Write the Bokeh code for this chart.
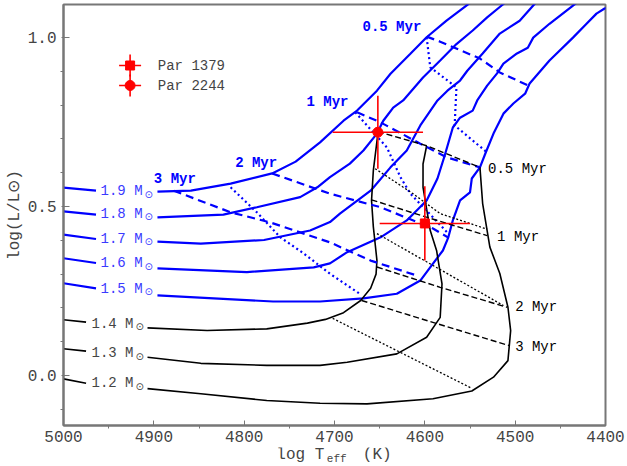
import math
from bokeh.plotting import figure
from bokeh.layouts import column
from bokeh.models import Range1d, FixedTicker, PrintfTickFormatter
from bokeh.core.properties import value
from bokeh.embed import file_html
from bokeh.resources import INLINE

nan = float("nan")

# ---------------- data ----------------
# evolutionary tracks (Teff [K], log L/Lsun); NaN = gap for the mass label
T19 = [5000, 4964, nan, 4896, 4859, 4815, 4769, 4743, 4716, 4690, 4675, 4653, 4638, 4616, 4598, 4576, 4554, 4539]
L19 = [0.556, 0.547, nan, 0.544, 0.547, 0.568, 0.598, 0.633, 0.690, 0.754, 0.784, 0.843, 0.893, 0.952, 1.001, 1.050, 1.095, 1.124]
T18 = [5000, 4964, nan, 4896, 4823, 4786, 4738, 4719, 4705, 4683, 4668, 4653, 4646, 4635, 4624, 4602, 4583, 4565, 4547, 4531, 4515, 4500]
L18 = [0.486, 0.476, nan, 0.468, 0.476, 0.498, 0.528, 0.557, 0.587, 0.627, 0.666, 0.716, 0.754, 0.793, 0.814, 0.882, 0.932, 0.981, 1.021, 1.060, 1.095, 1.127]
T17 = [5000, 4964, nan, 4896, 4848, 4778, 4727, 4705, 4694, 4660, 4638, 4620, 4605, 4586, 4575, 4561, 4553, 4536, 4517, 4495, 4480, 4470]
L17 = [0.417, 0.404, nan, 0.396, 0.390, 0.401, 0.429, 0.454, 0.479, 0.547, 0.616, 0.666, 0.740, 0.814, 0.843, 0.873, 0.902, 0.953, 1.012, 1.050, 1.095, 1.124]
T16 = [5000, 4964, nan, 4896, 4797, 4723, 4705, 4686, 4649, 4620, 4598, 4586, 4578, 4569, 4561, 4547, 4542, 4531, 4520, 4513, 4498, 4486, 4480, 4462, 4436, 4423]
L16 = [0.347, 0.333, nan, 0.317, 0.306, 0.320, 0.332, 0.365, 0.409, 0.459, 0.518, 0.583, 0.651, 0.734, 0.763, 0.784, 0.814, 0.858, 0.894, 0.923, 0.953, 0.970, 1.000, 1.041, 1.095, 1.121]
T15 = [5000, 4964, nan, 4896, 4768, 4716, 4668, 4631, 4605, 4591, 4580, 4574, 4569, 4561, 4550, 4548, 4539, 4533, 4524, 4513, 4502, 4489, 4484, 4462, 4436, 4421, 4410, 4401, 4393]
L15 = [0.273, 0.258, nan, 0.237, 0.219, 0.219, 0.228, 0.242, 0.281, 0.331, 0.370, 0.409, 0.459, 0.518, 0.542, 0.583, 0.616, 0.657, 0.716, 0.775, 0.805, 0.834, 0.864, 0.932, 1.000, 1.041, 1.071, 1.086, 1.092]
T14 = [5000, 4975, nan, 4907, 4841, 4775, 4730, 4710, 4690, 4671, 4660, 4654, 4653, 4657, 4659, 4657, 4652]
L14 = [0.165, 0.158, nan, 0.141, 0.133, 0.138, 0.155, 0.166, 0.186, 0.222, 0.258, 0.300, 0.340, 0.440, 0.518, 0.607, 0.715]
T13 = [5000, 4975, nan, 4907, 4848, 4775, 4716, 4686, 4631, 4598, 4583, 4581, 4587, 4594, 4602, 4602, 4598]
L13 = [0.079, 0.072, nan, 0.054, 0.036, 0.030, 0.030, 0.039, 0.064, 0.113, 0.172, 0.271, 0.370, 0.429, 0.557, 0.626, 0.680]
T12 = [5000, 4975, nan, 4907, 4848, 4775, 4716, 4664, 4591, 4548, 4524, 4508, 4505, 4508, 4517, 4528, 4536, 4539]
L12 = [-0.010, -0.023, nan, -0.039, -0.054, -0.074, -0.082, -0.084, -0.069, -0.046, -0.005, 0.044, 0.133, 0.202, 0.302, 0.380, 0.509, 0.616]

# blue isochrones (dashed)
BI05_T = [4598, 4583, 4539, 4517, 4483]
BI05_L = [1.003, 0.988, 0.938, 0.897, 0.855]
BI1_T = [4675, 4649, 4605, 4576, 4539]
BI1_L = [0.779, 0.749, 0.686, 0.646, 0.616]
BI2_T = [4769, 4705, 4649, 4591, 4574]
BI2_L = [0.598, 0.538, 0.498, 0.435, 0.408]
BI3_T = [4878, 4815, 4771, 4705, 4660, 4609]
BI3_L = [0.547, 0.483, 0.453, 0.394, 0.340, 0.296]
# blue dotted lines
BD1_T = [4598, 4594, 4565, 4567, 4531]
BD1_L = [1.001, 0.912, 0.853, 0.740, 0.660]
BD2_T = [4677, 4666, 4642, 4627, 4616, 4591, 4574]
BD2_L = [0.779, 0.746, 0.675, 0.587, 0.538, 0.468, 0.420]
BD3_T = [4815, 4786, 4760, 4734, 4705, 4671]
BD3_L = [0.557, 0.483, 0.409, 0.361, 0.301, 0.240]
# black isochrones (dashed)
KI05_T = [4652, 4598, 4539]
KI05_L = [0.722, 0.680, 0.616]
KI1_T = [4659, 4600, 4531]
KI1_L = [0.520, 0.470, 0.414]
KI2_T = [4653, 4583, 4509]
KI2_L = [0.321, 0.261, 0.202]
KI3_T = [4670, 4586, 4506]
KI3_L = [0.222, 0.153, 0.088]
# black dotted lines
KD1_T = [4655, 4613, 4583, 4531]
KD1_L = [0.612, 0.538, 0.479, 0.433]
KD2_T = [4653, 4513]
KD2_L = [0.420, 0.207]
KD3_T = [4702, 4548]
KD3_L = [0.169, -0.038]

# stars
star_names = ["Par 1379", "Par 2244"]
star_T = [4600, 4652]
star_L = [0.45, 0.72]
star_eT = [50, 50]
star_eL = [0.11, 0.108]

# labels
blue_mass_text = ["1.9 M", "1.8 M", "1.7 M", "1.6 M", "1.5 M"]
blue_mass_T = [4959, 4959, 4959, 4959, 4959]
blue_mass_L = [0.545, 0.478, 0.404, 0.332, 0.257]
black_mass_text = ["1.4 M", "1.3 M", "1.2 M"]
black_mass_T = [4969, 4969, 4969]
black_mass_L = [0.153, 0.066, -0.023]
blue_age_text = ["0.5 Myr", "1 Myr", "2 Myr", "3 Myr"]
blue_age_T = [4669, 4731, 4810, 4900]
blue_age_L = [1.030, 0.809, 0.630, 0.583]
black_age_text = ["0.5 Myr", "1 Myr", "2 Myr", "3 Myr"]
black_age_T = [4530, 4520, 4500, 4500]
black_age_L = [0.612, 0.409, 0.202, 0.084]

X0, X1 = 5000, 4400
Y0, Y1 = -0.148, 1.098

FONT = value("Liberation Mono")
BLUE = "#0000ff"
GREY = "#777777"
TXT = "#444444"

xr = Range1d(X0, X1)
p = figure(width=627, height=447, output_backend="svg", toolbar_location=None,
           x_range=xr, y_range=Range1d(Y0, Y1),
           min_border_left=63, min_border_right=22, min_border_top=4, min_border_bottom=22)
p.grid.visible = False
p.outline_line_color = GREY
p.outline_line_width = 2
p.background_fill_color = "white"
p.border_fill_color = "white"

for ax in (p.xaxis[0], p.yaxis[0]):
    ax.axis_line_color = GREY
    ax.axis_line_width = 2
    ax.major_tick_line_color = GREY
    ax.minor_tick_line_color = GREY
    ax.major_tick_line_width = 1
    ax.minor_tick_line_width = 1
    ax.major_label_text_font = "Liberation Mono"
    ax.major_label_text_font_size = "16px"
    ax.major_label_text_color = TXT

p.xaxis.ticker = FixedTicker(ticks=[5000, 4900, 4800, 4700, 4600, 4500, 4400],
                             minor_ticks=[4950, 4850, 4750, 4650, 4550, 4450])
p.xaxis.major_tick_in = 5
p.xaxis.major_tick_out = 0
p.xaxis.minor_tick_in = 0
p.xaxis.minor_tick_out = 3
p.xaxis.major_label_standoff = 2
p.yaxis.ticker = FixedTicker(ticks=[0.0, 0.5, 1.0],
                             minor_ticks=[-0.1, 0.1, 0.2, 0.3, 0.4, 0.6, 0.7, 0.8, 0.9])
p.yaxis.formatter = PrintfTickFormatter(format="%.1f")
p.yaxis.major_tick_in = 6
p.yaxis.major_tick_out = 2
p.yaxis.minor_tick_in = 0
p.yaxis.minor_tick_out = 3
p.yaxis.major_label_standoff = 4
p.yaxis.axis_label = "log(L/L\u2299)"
p.yaxis.axis_label_text_font = "Liberation Mono"
p.yaxis.axis_label_text_font_size = "16px"
p.yaxis.axis_label_text_font_style = "normal"
p.yaxis.axis_label_text_color = TXT
p.yaxis.axis_label_standoff = 1

# tracks
for T, L in [(T19, L19), (T18, L18), (T17, L17), (T16, L16), (T15, L15)]:
    p.line(T, L, line_color=BLUE, line_width=2.2)
for T, L in [(T14, L14), (T13, L13), (T12, L12)]:
    p.line(T, L, line_color="black", line_width=1.6)

for T, L in [(BI05_T, BI05_L), (BI1_T, BI1_L), (BI2_T, BI2_L), (BI3_T, BI3_L)]:
    p.line(T, L, line_color=BLUE, line_width=2.2, line_dash="8 5")
for T, L in [(BD1_T, BD1_L), (BD2_T, BD2_L), (BD3_T, BD3_L)]:
    p.line(T, L, line_color=BLUE, line_width=2.2, line_dash="2 3")
for T, L in [(KI05_T, KI05_L), (KI1_T, KI1_L), (KI2_T, KI2_L), (KI3_T, KI3_L)]:
    p.line(T, L, line_color="black", line_width=1.4, line_dash="6 3")
for T, L in [(KD1_T, KD1_L), (KD2_T, KD2_L), (KD3_T, KD3_L)]:
    p.line(T, L, line_color="black", line_width=1.3, line_dash="2 2")

# labels on the plot
p.text(blue_mass_T, blue_mass_L, text=blue_mass_text, text_font=FONT, text_font_size="14px",
       text_color="#3a3aff", text_baseline="middle", text_align="left")
p.text(blue_mass_T, blue_mass_L, text=["\u2299"] * len(blue_mass_T), text_font=value("DejaVu Sans"),
       text_font_size="10px", text_color="#3a3aff", text_baseline="middle", text_align="left",
       x_offset=44, y_offset=3)
p.text(black_mass_T, black_mass_L, text=black_mass_text, text_font=FONT, text_font_size="14px",
       text_color=TXT, text_baseline="middle", text_align="left")
p.text(black_mass_T, black_mass_L, text=["\u2299"] * len(black_mass_T), text_font=value("DejaVu Sans"),
       text_font_size="10px", text_color=TXT, text_baseline="middle", text_align="left",
       x_offset=44, y_offset=3)
p.text(blue_age_T, blue_age_L, text=blue_age_text, text_font=FONT, text_font_size="14px",
       text_font_style="bold", text_color=BLUE, text_baseline="middle", text_align="left")
p.text(black_age_T, black_age_L, text=black_age_text, text_font=FONT, text_font_size="14px",
       text_color="black", text_baseline="middle", text_align="left")

# stars with error bars
x0s = [t - e for t, e in zip(star_T, star_eT)]
x1s = [t + e for t, e in zip(star_T, star_eT)]
y0s = [l - e for l, e in zip(star_L, star_eL)]
y1s = [l + e for l, e in zip(star_L, star_eL)]
p.segment(x0s, star_L, x1s, star_L, line_color="red", line_width=1.6)
p.segment(star_T, y0s, star_T, y1s, line_color="red", line_width=1.6)
p.scatter([star_T[0]], [star_L[0]], marker="square", size=9, color="red")
p.scatter([star_T[1]], [star_L[1]], marker="circle", size=10, color="red")

# legend (placed by fractions of the frame)
def fx(f):
    return X0 + f * (X1 - X0)

def fy(f):
    return Y1 - f * (Y1 - Y0)

FW, FH = 542, 421
lx = fx((129.3 - 62.7) / FW)
ly = [fy((65 - 4) / FH), fy((85 - 4) / FH)]
dxa = 11 / FW * (X0 - X1)
dya = 11 / FH * (Y1 - Y0)
p.segment([lx - dxa] * 2, ly, [lx + dxa] * 2, ly, line_color="red", line_width=1.6)
p.segment([lx] * 2, [v - dya for v in ly], [lx] * 2, [v + dya for v in ly], line_color="red", line_width=1.6)
p.scatter([lx], [ly[0]], marker="square", size=9, color="red")
p.scatter([lx], [ly[1]], marker="circle", size=10, color="red")
p.text([fx((157 - 62.7) / FW)] * 2, ly, text=star_names, text_font=FONT, text_font_size="14px",
       text_color=TXT, text_baseline="middle", text_align="left")

# x-axis title strip (a thin figure sharing the x range, for the subscript)
HT = 19
t = figure(width=627, height=HT, output_backend="svg", toolbar_location=None,
           x_range=xr, y_range=Range1d(HT, 0),
           min_border_left=63, min_border_right=22, min_border_top=0, min_border_bottom=0,
           x_axis_location=None, y_axis_location=None)
t.grid.visible = False
t.outline_line_color = None
t.background_fill_color = "white"
t.border_fill_color = "white"
t.text([fx((275.5 - 62.7) / FW)], [7], text=["log T"], text_font=FONT, text_font_size="16px",
       text_color=TXT, text_baseline="middle", text_align="left")
t.text([fx((326 - 62.7) / FW)], [11], text=["eff"], text_font=FONT, text_font_size="11px",
       text_color=TXT, text_baseline="middle", text_align="left")
t.text([fx((362 - 62.7) / FW)], [7], text=["(K)"], text_font=FONT, text_font_size="16px",
       text_color=TXT, text_baseline="middle", text_align="left")

open("out.html", "w").write(file_html(column(p, t, spacing=0), INLINE))
